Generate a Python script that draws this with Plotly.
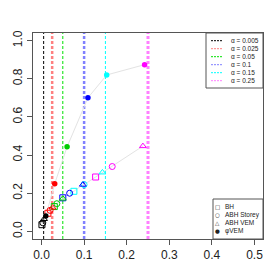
import plotly.graph_objects as go

# ---- data ----
alphas = [0.005, 0.025, 0.05, 0.1, 0.15, 0.25]
alpha_labels = ["α = 0.005", "α = 0.025", "α = 0.05", "α = 0.1", "α = 0.15", "α = 0.25"]
point_colors = ["#000000", "#FF0000", "#00CD00", "#0000FF", "#00FFFF", "#FF00FF"]
vline_colors = ["#000000", "#FF8080", "#00E000", "#8080FF", "#00FFFF", "#FF80FF"]
vline_widths = [1, 2.5, 1, 2.5, 1, 3]

bh_x = [0.001, 0.015, 0.030, 0.050, 0.076, 0.127]
bh_y = [0.035, 0.095, 0.130, 0.176, 0.210, 0.285]
storey_x = [0.003, 0.020, 0.036, 0.066, 0.100, 0.166]
storey_y = [0.045, 0.110, 0.145, 0.200, 0.245, 0.340]
vem_x = [0.006, 0.026, 0.050, 0.097, 0.143, 0.238]
vem_y = [0.065, 0.125, 0.172, 0.245, 0.309, 0.447]
phi_x = [0.010, 0.031, 0.060, 0.109, 0.153, 0.242]
phi_y = [0.080, 0.250, 0.443, 0.700, 0.820, 0.874]

method_labels = ["BH", "ABH Storey", "ABH VEM", "φVEM"]
method_glyphs = ["□", "○", "△", "●"]

fig = go.Figure()

# vertical alpha lines
for a, c, w in zip(alphas, vline_colors, vline_widths):
    fig.add_shape(type="line", xref="x", yref="paper", x0=a, x1=a, y0=0, y1=1,
                  line=dict(color=c, width=w, dash="3px,2px"), layer="below")

# gray connecting lines
open_pts = sorted(zip(bh_x + storey_x + vem_x, bh_y + storey_y + vem_y))
fig.add_trace(go.Scatter(x=[p[0] for p in open_pts], y=[p[1] for p in open_pts],
                         mode="lines", line=dict(color="#E3E3E3", width=1),
                         hoverinfo="skip", showlegend=False))
fig.add_trace(go.Scatter(x=phi_x, y=phi_y, mode="lines",
                         line=dict(color="#E3E3E3", width=1),
                         hoverinfo="skip", showlegend=False))

# markers
for xs, ys, sym in [(bh_x, bh_y, "square-open"), (storey_x, storey_y, "circle-open"),
                    (vem_x, vem_y, "triangle-up-open")]:
    fig.add_trace(go.Scatter(x=xs, y=ys, mode="markers",
                             marker=dict(symbol=sym, size=6, color=point_colors,
                                         line=dict(width=1, color=point_colors)),
                             showlegend=False))
fig.add_trace(go.Scatter(x=phi_x, y=phi_y, mode="markers",
                         marker=dict(symbol="circle", size=5.5, color=point_colors),
                         showlegend=False))

# plot area in screen pixels: x 33..263, y 33..239
L, R, T, B = 33, 263, 33, 239
def px(x):
    return (x - L) / (R - L)
def py(y):
    return (B - y) / (B - T)

# legend 1 (alpha lines)
fig.add_shape(type="rect", xref="paper", yref="paper", x0=px(206), x1=px(263),
              y0=py(88), y1=py(33), line=dict(color="#555555", width=1),
              fillcolor="white")
for i, (lab, c) in enumerate(zip(alpha_labels, vline_colors)):
    yy = 40.7 + 8 * i
    fig.add_shape(type="line", xref="paper", yref="paper", x0=px(211), x1=px(223),
                  y0=py(yy), y1=py(yy), line=dict(color=c, width=1, dash="2px,1px"))
    fig.add_annotation(xref="paper", yref="paper", x=px(229), y=py(yy), text=lab,
                       showarrow=False, xanchor="left", yanchor="middle",
                       font=dict(size=6.5, color="#222222", family="Liberation Sans"))

# legend 2 (methods)
fig.add_shape(type="rect", xref="paper", yref="paper", x0=px(213), x1=px(263),
              y0=py(239), y1=py(199), line=dict(color="#555555", width=1),
              fillcolor="white")
for i, (lab, g) in enumerate(zip(method_labels, method_glyphs)):
    yy = 206.7 + 8 * i
    fig.add_annotation(xref="paper", yref="paper", x=px(217.5), y=py(yy), text=g,
                       showarrow=False, xanchor="center", yanchor="middle",
                       font=dict(size=5.5, color="#222222", family="DejaVu Sans"))
    fig.add_annotation(xref="paper", yref="paper", x=px(223), y=py(yy), text=lab,
                       showarrow=False, xanchor="left", yanchor="middle",
                       font=dict(size=6.5, color="#222222", family="Liberation Sans"))

axis_common = dict(showgrid=False, zeroline=False, showline=True, linecolor="#555555",
                   linewidth=1, mirror=True, ticks="outside", ticklen=5, automargin=False,
                   tickcolor="#555555", tickfont=dict(size=12, color="#222222",
                                                      family="Liberation Sans"))
fig.update_xaxes(range=[-0.02, 0.52], tickvals=[0, 0.1, 0.2, 0.3, 0.4, 0.5],
                 ticktext=["0.0", "0.1", "0.2", "0.3", "0.4", "0.5"], **axis_common)
fig.update_yaxes(range=[-0.04, 1.04], tickvals=[0, 0.2, 0.4, 0.6, 0.8, 1.0],
                 ticktext=["0.0", "0.2", "0.4", "0.6", "0.8", "1.0"], tickangle=-90,
                 **axis_common)

# page body has an 8px margin, so the figure is offset by 8px
fig.update_layout(width=272, height=272, margin=dict(l=25, r=17, t=25, b=41),
                  paper_bgcolor="white", plot_bgcolor="white", showlegend=False)

fig.write_html("out.html")
